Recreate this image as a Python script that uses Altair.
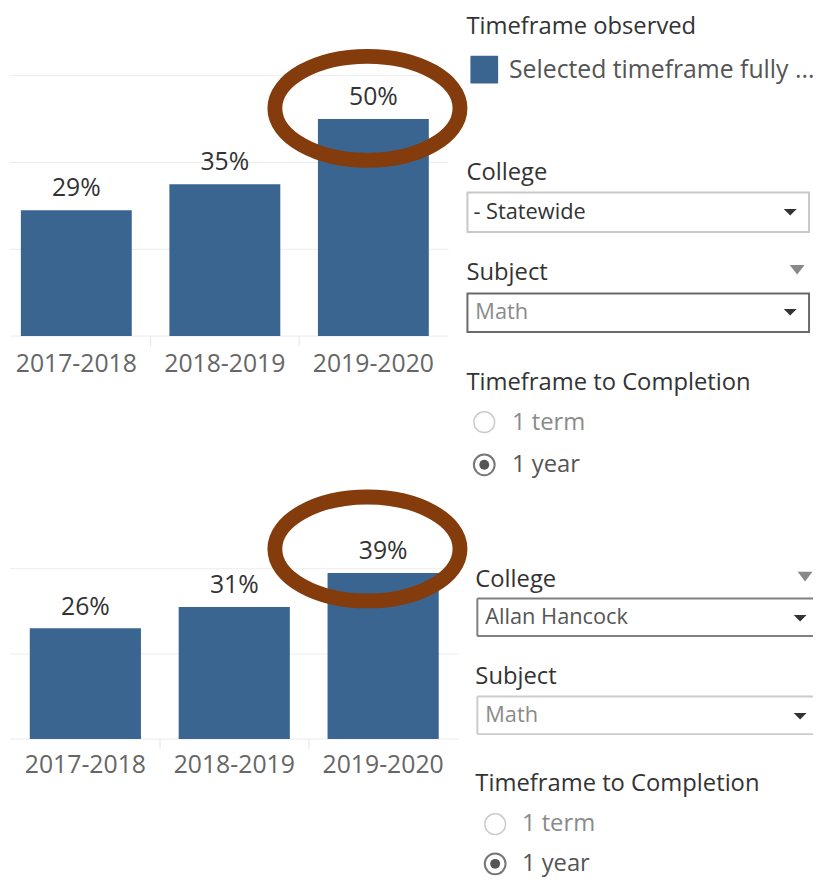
import altair as alt
import pandas as pd

# ---------------- data ----------------
years = ["2017-2018", "2018-2019", "2019-2020"]
statewide_rate = [0.29, 0.35, 0.50]
hancock_rate = [0.26, 0.31, 0.39]
grid_top = [0.0, 0.2, 0.4, 0.6]
grid_bottom = [0.0, 0.2, 0.4]

legend_title = "Timeframe observed"
legend_label = "Selected timeframe fully ..."
college_title = "College"
subject_title = "Subject"
completion_title = "Timeframe to Completion"
colleges = ["- Statewide", "Allan Hancock"]
subjects = ["Math", "Math"]
options = ["1 term", "1 year"]

# ---------------- style ----------------
FONT = "Open Sans"
BLUE = "#3a6591"
BROWN = "#843c0c"
K = 0.5615
KC = round(K * 0.5523, 4)
ELLIPSE = (f"M-1,0C-1,-{KC} -0.5523,-{K} 0,-{K}C0.5523,-{K} 1,-{KC} 1,0"
           f"C1,{KC} 0.5523,{K} 0,{K}C-0.5523,{K} -1,{KC} -1,0Z")
TRI = "M-1,-0.5L1,-0.5L0,0.5Z"
TRI_BIG = "M-1,-0.65L1,-0.65L0,0.65Z"

one = pd.DataFrame({"k": [0]})


def bar_panel(rates, grid, x_range, y_domain, y_range, grid_x, sep_y, label_y):
    df = pd.DataFrame({"year": years, "rate": rates})
    xs = alt.Scale(domain=years, range=x_range, paddingInner=0.2533, paddingOuter=0)
    ys = alt.Scale(domain=y_domain, range=y_range, nice=False, zero=True)
    X = alt.X("year:N", scale=xs, axis=None)
    Y = alt.Y("rate:Q", scale=ys, axis=None)
    g = alt.Chart(pd.DataFrame({"g": grid})).mark_rule(color="#ececec", strokeWidth=1).encode(
        y=alt.Y("g:Q", scale=ys, axis=None), x=alt.value(grid_x[0]), x2=alt.value(grid_x[1])
    )
    sep = alt.Chart(pd.DataFrame({"year": years[1:]})).mark_rule(
        color="#e4e4e4", strokeWidth=1, xOffset=-75
    ).encode(x=X, y=alt.value(sep_y[0]), y2=alt.value(sep_y[1]))
    bars = alt.Chart(df).mark_bar(color=BLUE).encode(x=X, y=Y)
    vals = alt.Chart(df).mark_text(font=FONT, fontSize=25, color="#333333", baseline="middle", dy=-22).encode(
        x=X, y=Y, text=alt.Text("rate:Q", format=".0%")
    )
    cats = alt.Chart(df).mark_text(font=FONT, fontSize=25, color="#666666", baseline="middle").encode(
        x=X, y=alt.value(label_y), text="year:N"
    )
    return alt.layer(g, sep, bars, vals, cats)


def label(text, x, y, size=24, color="#333333"):
    return alt.Chart(one).mark_text(text=text, align="left", baseline="middle", font=FONT,
                                    fontSize=size, color=color).encode(x=alt.value(x), y=alt.value(y))


def box(x1, x2, y1, y2, stroke, sw=2):
    return alt.Chart(one).mark_rect(fill="white", stroke=stroke, strokeWidth=sw).encode(
        x=alt.value(x1), x2=alt.value(x2), y=alt.value(y1), y2=alt.value(y2))


def hrule(x1, x2, y, color, sw=2):
    return alt.Chart(one).mark_rule(color=color, strokeWidth=sw).encode(
        x=alt.value(x1), x2=alt.value(x2), y=alt.value(y))


def vrule(x, y1, y2, color, sw=2):
    return alt.Chart(one).mark_rule(color=color, strokeWidth=sw).encode(
        x=alt.value(x), y=alt.value(y1), y2=alt.value(y2))


def sym(x, y, shape, size, color, filled=True, sw=1):
    return alt.Chart(one).mark_point(shape=shape, size=size, filled=filled, color=color,
                                     strokeWidth=sw, opacity=1).encode(x=alt.value(x), y=alt.value(y))


top = bar_panel(statewide_rate, grid_top, [13, 425], [0, 0.6], [327, 64], [2, 445], [327, 337], 355)
bottom = bar_panel(hancock_rate, grid_bottom, [22, 435], [0, 0.4], [734, 562], [2, 455], [734, 744], 760)

deco = [
    # top side panel
    label(legend_title, 463, 15),
    alt.Chart(one).mark_rect(color=BLUE, cornerRadius=1).encode(
        x=alt.value(467), x2=alt.value(495), y=alt.value(44), y2=alt.value(72)),
    label(legend_label, 506, 58, size=25, color="#555555"),
    label(college_title, 463, 162),
    box(464, 809, 182, 222, "#c8c8c8"),
    label(colleges[0], 470, 202, size=22, color="#333333"),
    sym(790, 202, TRI, 169, "#333333"),
    label(subject_title, 463, 263),
    sym(797, 260, TRI_BIG, 225, "#888888"),
    box(464, 809, 284, 323, "#6a6a6a"),
    label(subjects[0], 472, 303, size=22, color="#8a8a8a"),
    sym(790, 303, TRI, 169, "#333333"),
    label(completion_title, 463, 374),
    sym(481, 414, "circle", 441, "#cccccc", filled=False, sw=1.5),
    label(options[0], 509, 415, size=24, color="#8a8a8a"),
    sym(481, 457, "circle", 441, "#777777", filled=False, sw=2),
    sym(481, 457, "circle", 100, "#555555"),
    label(options[1], 509, 457, size=24, color="#555555"),
    # bottom side panel
    sym(805, 570, TRI_BIG, 225, "#888888"),
    label(college_title, 472, 573),
    hrule(474, 813, 592, "#808080"),
    hrule(474, 813, 630, "#808080"),
    vrule(474, 592, 630, "#808080"),
    label(colleges[1], 482, 611, size=22, color="#555555"),
    sym(800, 612, TRI, 169, "#333333"),
    label(subject_title, 472, 671),
    hrule(474, 813, 691, "#cccccc"),
    hrule(474, 813, 729, "#cccccc"),
    vrule(474, 691, 729, "#cccccc"),
    label(subjects[1], 482, 710, size=22, color="#8a8a8a"),
    sym(800, 711, TRI, 169, "#333333"),
    label(completion_title, 472, 779),
    sym(492, 820, "circle", 441, "#cccccc", filled=False, sw=1.5),
    label(options[0], 519, 820, size=24, color="#8a8a8a"),
    sym(492, 860, "circle", 441, "#777777", filled=False, sw=2),
    sym(492, 860, "circle", 100, "#555555"),
    label(options[1], 519, 860, size=24, color="#555555"),
    # annotation ellipses
    sym(363, 97, ELLIPSE, 34969, BROWN, filled=False, sw=15),
    sym(363, 542, ELLIPSE, 34969, BROWN, filled=False, sw=15),
]

chart = alt.layer(top, bottom, *deco).resolve_scale(
    x="independent", y="independent"
).properties(
    width=813, height=872, padding=0,
    autosize=alt.AutoSizeParams(type="none"),
    background="white",
).configure_view(stroke=None)

chart.save("out.html", embed_options={"renderer": "svg", "actions": False})
